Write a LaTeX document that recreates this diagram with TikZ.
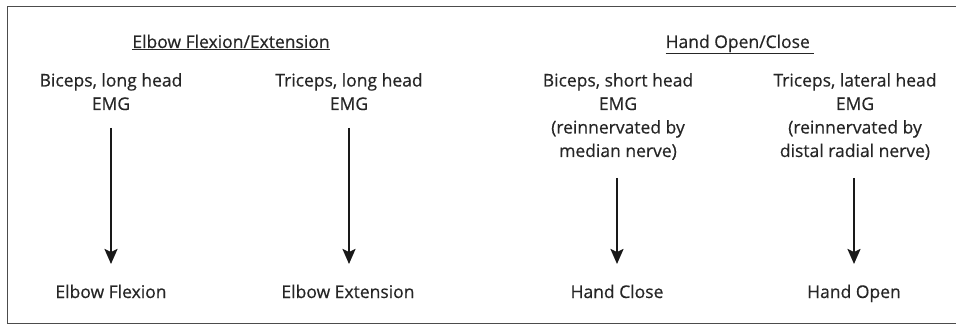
\documentclass[tikz,border=0pt]{standalone}
\usepackage{fontspec}
\setmainfont{Open Sans}[FakeBold=0.5]
\usetikzlibrary{arrows.meta}
\begin{document}
\begin{tikzpicture}[x=1pt,y=-1pt,
  lbl/.style={font=\fontsize{17.5}{23.5}\selectfont, text=black!85, align=center, inner sep=0pt},
  ttl/.style={font=\fontsize{17.5}{23.5}\selectfont, text=black!85, inner sep=0pt},
  arr/.style={line width=2.2pt, draw=black!90, -{Stealth[length=15pt,width=13pt,inset=3pt]}},
  frame/.style={line width=1.6pt, draw=black!70}]
\useasboundingbox (0,0) rectangle (956,326);
\coordinate (tl) at (7.5,6.5);
\coordinate (tr) at (956,6.5);
\coordinate (bl) at (7.5,323.5);
\coordinate (br) at (956,323.5);
\draw[frame] (tr) -- (tl) -- (bl) -- (br);
% titles
\node[ttl, anchor=base] (t1) at (231,48) {\underline{Elbow Flexion/Extension}};
\node[ttl, anchor=base] (t2) at (740,48) {\underline{Hand Open/Close\ }};
% sources
\node[lbl, anchor=north] (s1) at (111,73) {Biceps, long head\\EMG};
\node[lbl, anchor=north] (s2) at (349,73) {Triceps, long head\\EMG};
\node[lbl, anchor=north] (s3) at (618,73) {Biceps, short head\\EMG\\(reinnervated by\\median nerve)};
\node[lbl, anchor=north] (s4) at (855,73) {Triceps, lateral head\\EMG\\(reinnervated by\\distal radial nerve)};
% targets
\node[lbl, anchor=base] (d1) at (111,298) {Elbow Flexion};
\node[lbl, anchor=base] (d2) at (348,298) {Elbow Extension};
\node[lbl, anchor=base] (d3) at (617,298) {Hand Close};
\node[lbl, anchor=base] (d4) at (854,298) {Hand Open};
% arrows
\coordinate (a1) at (111,128); \coordinate (b1) at (111,264);
\coordinate (a2) at (349,128); \coordinate (b2) at (349,264);
\coordinate (a3) at (617,178); \coordinate (b3) at (617,264);
\coordinate (a4) at (854,178); \coordinate (b4) at (854,264);
\draw[arr] (a1) -- (b1);
\draw[arr] (a2) -- (b2);
\draw[arr] (a3) -- (b3);
\draw[arr] (a4) -- (b4);
\end{tikzpicture}
\end{document}
